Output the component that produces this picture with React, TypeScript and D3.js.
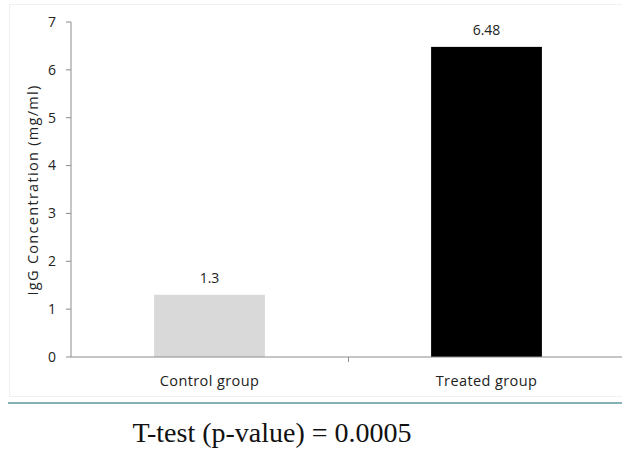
import React from "react";
import * as d3 from "d3";

const categories = ["Control group", "Treated group"];
const values = [1.3, 6.48];
const valueLabels = ["1.3", "6.48"];
const barColors = ["#d9d9d9", "#000000"];
const yTicks = [0, 1, 2, 3, 4, 5, 6, 7];
const yLabel = "IgG Concentration  (mg/ml)";
const caption = "T-test (p-value) = 0.0005";

const W = 622;
const H = 450;
const left = 71;
const right = 625;
const top = 22;
const bottom = 357;

export default function App() {
  const x = d3.scaleBand<string>().domain(categories).range([left, right]).paddingInner(0.6).paddingOuter(0.3);
  const y = d3.scaleLinear().domain([0, 7]).range([bottom, top]);
  const sans = "'Open Sans', 'Liberation Sans', sans-serif";
  return (
    <svg width={W} height={H} style={{ position: "absolute", left: 0, top: 0, background: "#fff" }}>
      <rect x={9.5} y={4.5} width={620} height={392} fill="#fff" stroke="#f0f0f0" />
      {categories.map((c, i) => (
        <g key={c}>
          <rect x={x(c)} y={y(values[i])} width={x.bandwidth()} height={y(0) - y(values[i])} fill={barColors[i]} />
          <text x={(x(c) as number) + x.bandwidth() / 2} y={y(values[i]) - 12} textAnchor="middle" fontFamily={sans} fontSize={14} fill="#222">
            {valueLabels[i]}
          </text>
          <text x={(x(c) as number) + x.bandwidth() / 2} y={bottom + 29} textAnchor="middle" fontFamily={sans} fontSize={14.5} letterSpacing={0.4} fill="#222">
            {c}
          </text>
        </g>
      ))}
      <line x1={left} x2={left} y1={top} y2={bottom} stroke="#8c8c8c" />
      <line x1={left} x2={W} y1={bottom} y2={bottom} stroke="#8c8c8c" />
      <line x1={348.5} x2={348.5} y1={bottom} y2={bottom + 5} stroke="#8c8c8c" />
      {yTicks.map((t) => (
        <g key={t}>
          <line x1={left - 5} x2={left} y1={y(t)} y2={y(t)} stroke="#8c8c8c" />
          <text x={56} y={y(t)} dy="0.35em" textAnchor="end" fontFamily={sans} fontSize={14} fill="#222">
            {t}
          </text>
        </g>
      ))}
      <text transform={`translate(33,190) rotate(-90)`} textAnchor="middle" dy="0.35em" fontFamily={sans} fontSize={14.5} letterSpacing={1.3} fill="#222">
        {yLabel}
      </text>
      <line x1={8} x2={W} y1={403} y2={403} stroke="#86b2b6" strokeWidth={2} />
      <text x={272} y={442} textAnchor="middle" fontFamily="'Liberation Serif', 'Times New Roman', serif" fontSize={28} fill="#111">
        {caption}
      </text>
    </svg>
  );
}
